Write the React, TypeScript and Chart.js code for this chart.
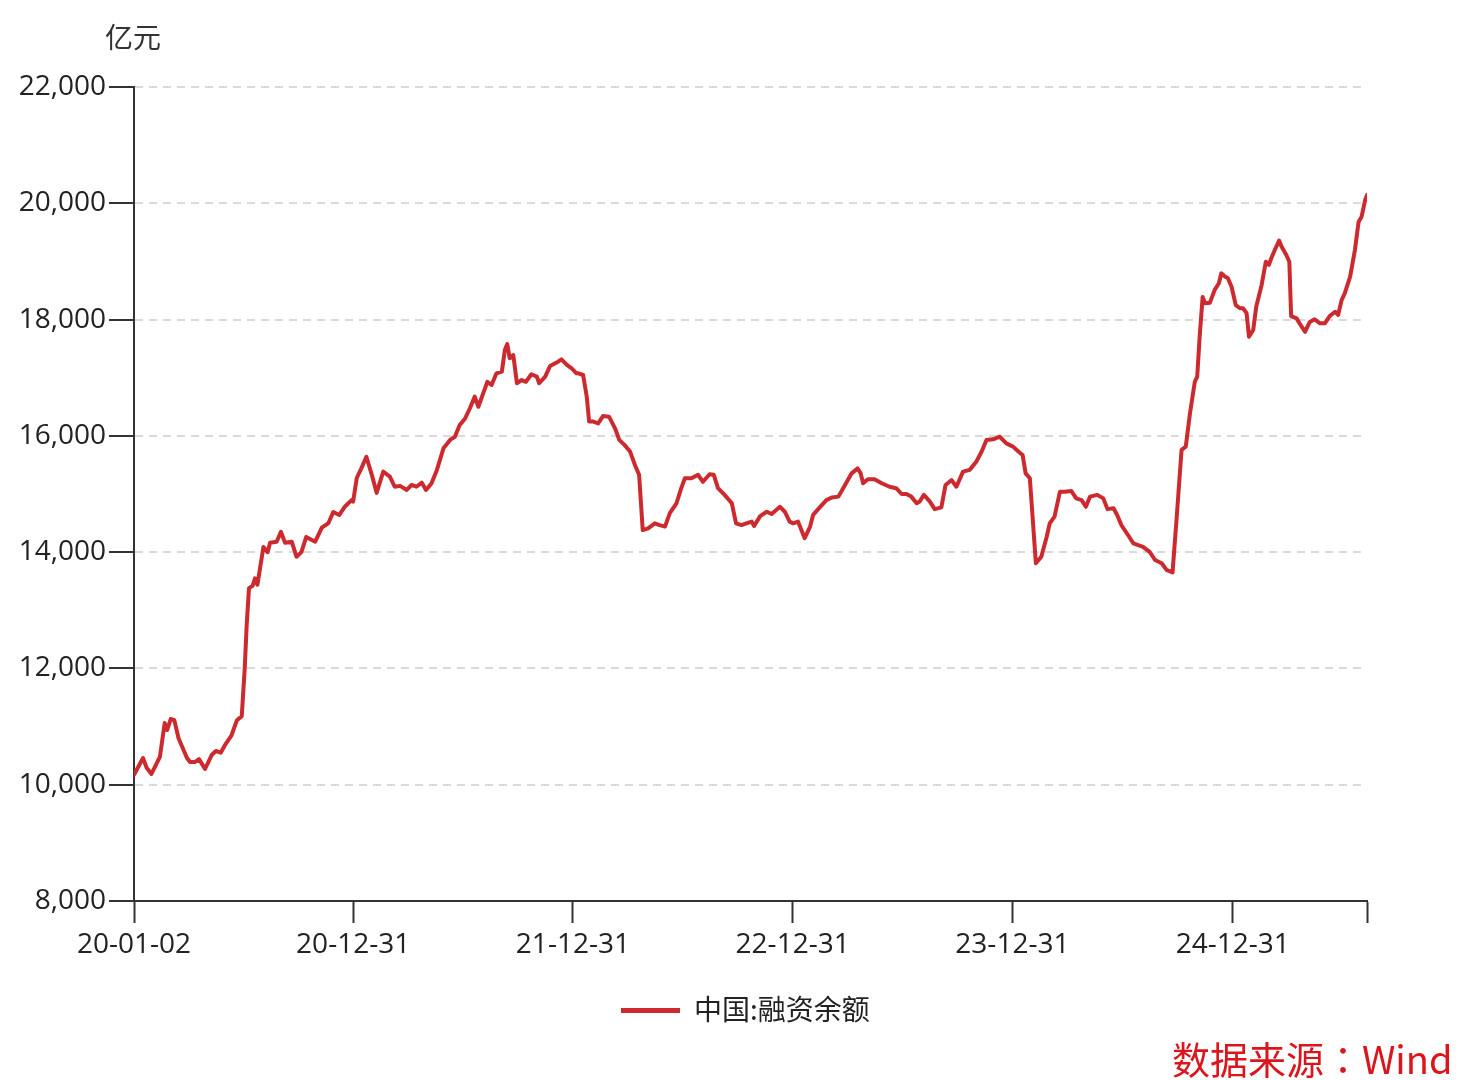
import React, { useEffect, useRef } from 'react';
import { Chart, registerables } from 'chart.js';

Chart.register(...registerables);

// ---- data ----
const seriesName = '中国:融资余额';
const unitLabel = '亿元';
const sourceLabel = '数据来源：Wind';
// calendar days since 2020-01-02
const dayOffsets = [
  0, 15, 21, 29, 43, 51, 55, 61, 67, 74, 88, 93, 101, 108, 118, 129, 136, 144, 151, 162, 171, 179, 184, 187, 191, 197, 201, 205, 215, 222, 226, 237, 244, 251, 262, 270, 278, 286, 301, 312, 323, 331, 341, 350, 362,
  364, 370, 378, 386, 395, 403, 414, 425, 433, 442, 453, 461, 469, 478, 485, 494, 503, 514, 525, 533, 541, 550, 558, 566, 572, 580, 587, 594, 602, 611, 616, 620, 624, 630, 636, 644, 651, 660, 669, 673, 683, 691, 702, 710, 719, 727, 735,
  738, 746, 752, 756, 763, 771, 779, 789, 799, 806, 815, 824, 832, 839, 845, 854, 865, 873, 882, 890, 901, 909, 915, 926, 937, 945, 956, 963, 970, 981, 993, 1000, 1009, 1017, 1026, 1030, 1040, 1051, 1059, 1073, 1081, 1089,
  1095, 1103, 1114, 1123, 1128, 1139, 1150, 1159, 1170, 1181, 1192, 1202, 1207, 1211, 1219, 1230, 1242, 1255, 1266, 1275, 1283, 1291, 1300, 1305, 1312, 1322, 1330, 1341, 1348, 1358, 1366, 1377, 1388, 1399, 1408, 1416, 1427, 1438, 1449, 1460, 1469,
  1476, 1481, 1488, 1498, 1507, 1516, 1521, 1529, 1538, 1546, 1557, 1565, 1574, 1581, 1588, 1600, 1610, 1617, 1627, 1633, 1640, 1651, 1660, 1668, 1676, 1687, 1696, 1707, 1715, 1725, 1732, 1740, 1747, 1754, 1762, 1766, 1770, 1775, 1779, 1787, 1795, 1802, 1806, 1812, 1817, 1823, 1830,
  1837, 1842, 1848, 1852, 1859, 1864, 1873, 1880, 1885, 1889, 1895, 1902, 1906, 1914, 1919, 1922, 1931, 1936, 1945, 1953, 1961, 1970, 1978, 1986, 1995, 2000, 2006, 2011, 2020, 2028, 2034, 2039, 2045, 2048,
];
// 亿元
const balance = [
  10170, 10460, 10290, 10185, 10477, 11060, 10940, 11130, 11110, 10800, 10460, 10390, 10390, 10440, 10270, 10510, 10580, 10550, 10680, 10850, 11110, 11180, 12020, 12710, 13380, 13420, 13550, 13440, 14090, 14000, 14160, 14180, 14350, 14160, 14180, 13920, 14000, 14260, 14180, 14420, 14500, 14690, 14640, 14780, 14900,
  14870, 15275, 15450, 15640, 15330, 15020, 15385, 15300, 15125, 15140, 15070, 15155, 15125, 15195, 15070, 15180, 15410, 15785, 15930, 15985, 16185, 16300, 16475, 16675, 16500, 16730, 16930, 16875, 17075, 17105, 17475, 17580, 17335, 17390, 16905, 16960, 16930, 17060, 17020, 16905, 17020, 17200, 17260, 17315, 17220, 17160, 17075,
  17075, 17047, 16675, 16245, 16245, 16215, 16340, 16330, 16130, 15930, 15840, 15730, 15500, 15330, 14380, 14410, 14495, 14465, 14440, 14670, 14840, 15100, 15270, 15270, 15330, 15210, 15340, 15330, 15100, 14985, 14840, 14495, 14465, 14495, 14525, 14450, 14620, 14695, 14655, 14780, 14695, 14525,
  14495, 14525, 14240, 14440, 14640, 14770, 14895, 14940, 14955, 15155, 15355, 15440, 15355, 15185, 15255, 15255, 15185, 15125, 15100, 15000, 15000, 14955, 14840, 14870, 14985, 14870, 14740, 14770, 15155, 15240, 15125, 15385, 15415, 15555, 15730, 15930, 15940, 15985, 15870, 15815, 15730,
  15670, 15355, 15270, 13808, 13920, 14265, 14495, 14610, 15040, 15040, 15050, 14925, 14895, 14780, 14955, 14985, 14925, 14740, 14755, 14640, 14465, 14295, 14150, 14120, 14090, 14005, 13865, 13808, 13695, 13650, 14610, 15760, 15815, 16390, 16930, 17020, 17700, 18390, 18280, 18290, 18510, 18625, 18795, 18740, 18710, 18565, 18250,
  18195, 18195, 18110, 17705, 17820, 18220, 18595, 18995, 18940, 19055, 19200, 19360, 19255, 19110, 18995, 18060, 18020, 17935, 17790, 17960, 18005, 17935, 17935, 18060, 18135, 18080, 18340, 18450, 18740, 19200, 19680, 19770, 20060, 20140,
];
const xTickDays = [0, 364, 729, 1094, 1459, 1825, 2048];
const xTickLabels = ['20-01-02', '20-12-31', '21-12-31', '22-12-31', '23-12-31', '24-12-31', ''];
const yMin = 8000;
const yMax = 22000;
const yStep = 2000;

const FONT = '"Open Sans", "Noto Sans CJK SC", sans-serif';
const CJK_FONT = '"Noto Sans CJK SC", "Open Sans", sans-serif';
const SOURCE_FONT = '"Noto Sans CJK TC", "Noto Sans CJK SC", sans-serif';
const LINE_COLOR = '#cc2a2e';
const AXIS_COLOR = '#333333';

export default function App() {
  const canvasRef = useRef<HTMLCanvasElement | null>(null);

  useEffect(() => {
    const canvas = canvasRef.current;
    if (!canvas) return;
    const points = dayOffsets.map((d, i) => ({ x: d, y: balance[i] }));
    const chart = new Chart(canvas, {
      type: 'line',
      data: {
        datasets: [
          {
            label: seriesName,
            data: points,
            borderColor: LINE_COLOR,
            backgroundColor: LINE_COLOR,
            borderWidth: 4,
            borderJoinStyle: 'round',
            borderCapStyle: 'round',
            pointRadius: 0,
            tension: 0,
            fill: false,
          },
        ],
      },
      options: {
        animation: false,
        responsive: false,
        devicePixelRatio: 1,
        layout: { padding: { top: 87, right: 95, left: 0, bottom: 0 } },
        plugins: {
          legend: { display: false },
          tooltip: { enabled: false },
        },
        scales: {
          x: {
            type: 'linear',
            min: xTickDays[0],
            max: xTickDays[xTickDays.length - 1],
            afterBuildTicks: (scale: any) => {
              scale.ticks = xTickDays.map((v) => ({ value: v }));
            },
            afterFit: (scale: any) => {
              scale.height = 1080 - 901;
            },
            grid: {
              display: true,
              drawOnChartArea: false,
              drawTicks: true,
              tickLength: 22,
              tickColor: AXIS_COLOR,
              tickWidth: 2,
            },
            border: { display: true, color: AXIS_COLOR, width: 2 },
            ticks: {
              autoSkip: false,
              maxRotation: 0,
              minRotation: 0,
              padding: 5,
              color: '#222222',
              font: { family: FONT, size: 28 },
              callback: (value: any) => {
                const idx = xTickDays.indexOf(Number(value));
                return idx >= 0 ? xTickLabels[idx] : '';
              },
            },
          },
          y: {
            type: 'linear',
            min: yMin,
            max: yMax,
            afterFit: (scale: any) => {
              scale.width = 134;
            },
            grid: {
              display: true,
              drawOnChartArea: true,
              drawTicks: true,
              tickLength: 25,
              color: '#dadada',
              lineWidth: 2,
              tickColor: AXIS_COLOR,
              tickWidth: 2,
            },
            border: { display: true, color: AXIS_COLOR, width: 2, dash: [8, 6] },
            ticks: {
              stepSize: yStep,
              padding: 3,
              color: '#222222',
              font: { family: FONT, size: 28 },
              callback: (value: any) => Number(value).toLocaleString('en-US'),
            },
          },
        },
      },
    });
    return () => chart.destroy();
  }, []);

  return (
    <div style={{ position: 'fixed', left: 0, top: 0, width: 1462, height: 1080, background: '#ffffff' }}>
      <canvas ref={canvasRef} width={1462} height={1080} style={{ position: 'absolute', left: 0, top: 0 }} />
      <div
        style={{
          position: 'absolute', left: 105, top: 21, fontFamily: CJK_FONT, fontSize: 28,
          lineHeight: '30px', color: '#333333', whiteSpace: 'nowrap',
        }}
      >
        {unitLabel}
      </div>
      <div style={{ position: 'absolute', left: 621, top: 1008, width: 59, height: 5, background: LINE_COLOR }} />
      <div
        style={{
          position: 'absolute', left: 694, top: 992, fontFamily: CJK_FONT, fontSize: 28,
          lineHeight: '32px', color: '#222222', whiteSpace: 'nowrap',
        }}
      >
        {seriesName}
      </div>
      <div
        style={{
          position: 'absolute', left: 1172, top: 1036, fontFamily: SOURCE_FONT, fontSize: 38,
          lineHeight: '44px', color: '#dc141c', whiteSpace: 'nowrap',
        }}
      >
        {sourceLabel}
      </div>
    </div>
  );
}
